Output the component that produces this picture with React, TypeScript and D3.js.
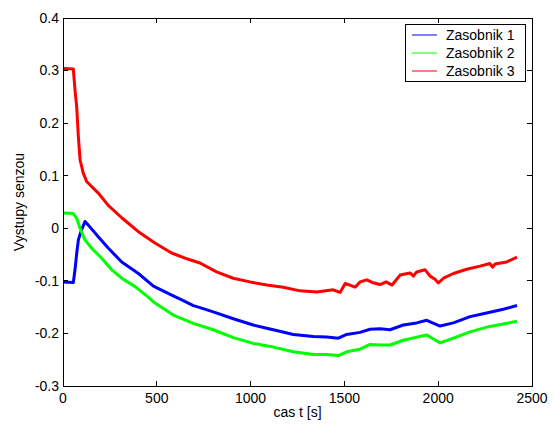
import React from "react";
import * as d3 from "d3";

// ---- data ----
const seriesNames = ["Zasobnik 1", "Zasobnik 2", "Zasobnik 3"];
const seriesColors = ["#0000ff", "#00ff00", "#ff0000"];

const t1 = [0, 55, 64, 73, 82, 96, 117, 135, 188, 242, 313, 402, 482, 585, 633, 695, 730, 801, 908, 1014, 1086, 1121, 1228, 1334, 1406, 1468, 1512, 1583, 1637, 1690, 1743, 1814, 1885, 1939, 2010, 2081, 2170, 2258, 2347, 2420];
const v1 = [-0.102, -0.103, -0.079, -0.048, -0.022, -0.006, 0.013, 0.006, -0.016, -0.038, -0.064, -0.086, -0.110, -0.128, -0.136, -0.147, -0.151, -0.159, -0.172, -0.184, -0.190, -0.193, -0.202, -0.206, -0.207, -0.209, -0.202, -0.198, -0.192, -0.191, -0.193, -0.184, -0.180, -0.175, -0.186, -0.180, -0.168, -0.161, -0.154, -0.147];

const t2 = [0, 55, 73, 91, 117, 153, 206, 260, 313, 384, 455, 482, 588, 695, 801, 908, 1014, 1121, 1228, 1334, 1406, 1468, 1512, 1583, 1637, 1690, 1743, 1814, 1885, 1939, 2010, 2081, 2170, 2258, 2347, 2420];
const v2 = [0.029, 0.028, 0.019, 0.0, -0.022, -0.038, -0.057, -0.079, -0.095, -0.111, -0.131, -0.140, -0.165, -0.181, -0.193, -0.208, -0.219, -0.226, -0.235, -0.240, -0.240, -0.242, -0.235, -0.230, -0.221, -0.222, -0.222, -0.213, -0.207, -0.203, -0.218, -0.209, -0.197, -0.188, -0.182, -0.177];

const t3 = [0, 55, 64, 73, 82, 91, 108, 126, 188, 240, 313, 400, 490, 579, 668, 730, 819, 907, 997, 1086, 1174, 1264, 1352, 1440, 1477, 1504, 1530, 1557, 1584, 1619, 1648, 1690, 1722, 1754, 1797, 1850, 1868, 1885, 1930, 1957, 1983, 2001, 2028, 2081, 2152, 2223, 2276, 2290, 2303, 2365, 2420];
const v3 = [0.304, 0.303, 0.263, 0.231, 0.174, 0.130, 0.105, 0.089, 0.067, 0.044, 0.020, -0.006, -0.028, -0.047, -0.059, -0.066, -0.083, -0.095, -0.102, -0.108, -0.112, -0.119, -0.121, -0.117, -0.122, -0.105, -0.108, -0.112, -0.102, -0.098, -0.103, -0.107, -0.102, -0.108, -0.089, -0.085, -0.091, -0.083, -0.079, -0.091, -0.097, -0.104, -0.095, -0.086, -0.078, -0.072, -0.067, -0.074, -0.068, -0.064, -0.055];

const xTicks = [0, 500, 1000, 1500, 2000, 2500];
const yTicks = [-0.3, -0.2, -0.1, 0, 0.1, 0.2, 0.3, 0.4];
const xLabel = "cas t [s]";
const yLabel = "Vystupy senzou";

const W = 556, H = 425;
const L = 63, R = 532, T = 18, B = 386;
const FONT = "'Liberation Sans', Arial, Helvetica, sans-serif";

export default function App() {
  const x = d3.scaleLinear().domain([0, 2500]).range([L, R]);
  const y = d3.scaleLinear().domain([-0.3, 0.4]).range([B, T]);
  const line = d3.line<[number, number]>().x(d => x(d[0])).y(d => y(d[1]));
  const series = [
    { t: t1, v: v1 },
    { t: t2, v: v2 },
    { t: t3, v: v3 },
  ];
  const fmt = (v: number) => String(+v.toFixed(1));
  const tick = 5;
  return (
    <div style={{ position: "absolute", left: 0, top: 0 }}>
      <svg width={W} height={H} style={{ display: "block", background: "#fff" }}>
        <rect x={0} y={0} width={W} height={H} fill="#fff" />
        {series.map((s, i) => (
          <path
            key={i}
            d={line(s.t.map((tt, j) => [tt, s.v[j]] as [number, number])) || ""}
            fill="none"
            stroke={seriesColors[i]}
            strokeWidth={3}
            strokeLinejoin="round"
          />
        ))}
        <g shapeRendering="crispEdges" stroke="#000" strokeWidth={1}>
          <rect x={L} y={T} width={R - L} height={B - T} fill="none" />
          {xTicks.map(v => (
            <g key={"x" + v}>
              <line x1={x(v)} x2={x(v)} y1={B} y2={B - tick} />
              <line x1={x(v)} x2={x(v)} y1={T} y2={T + tick} />
            </g>
          ))}
          {yTicks.map(v => (
            <g key={"y" + v}>
              <line x1={L} x2={L + tick} y1={y(v)} y2={y(v)} />
              <line x1={R} x2={R - tick} y1={y(v)} y2={y(v)} />
            </g>
          ))}
        </g>
        <g fontFamily={FONT} fontSize={14} fill="#000">
          {xTicks.map(v => (
            <text key={"xl" + v} x={x(v)} y={B + 17} textAnchor="middle">{v}</text>
          ))}
          {yTicks.map(v => (
            <text key={"yl" + v} x={L - 4} y={y(v)} dy="0.35em" textAnchor="end">{fmt(v)}</text>
          ))}
          <text x={(L + R) / 2} y={417} textAnchor="middle">{xLabel}</text>
          <text transform={`translate(24,${(T + B) / 2}) rotate(-90)`} textAnchor="middle">{yLabel}</text>
        </g>
        <g>
          <rect x={405.5} y={24.5} width={120} height={57} fill="#fff" stroke="#000" strokeWidth={1} shapeRendering="crispEdges" />
          {seriesNames.map((n, i) => (
            <g key={n}>
              <line x1={412} x2={437} y1={35 + i * 18} y2={35 + i * 18} stroke={seriesColors[i]} strokeWidth={1} />
              <text x={446} y={35 + i * 18} dy="0.35em" fontFamily={FONT} fontSize={14}>{n}</text>
            </g>
          ))}
        </g>
      </svg>
    </div>
  );
}
